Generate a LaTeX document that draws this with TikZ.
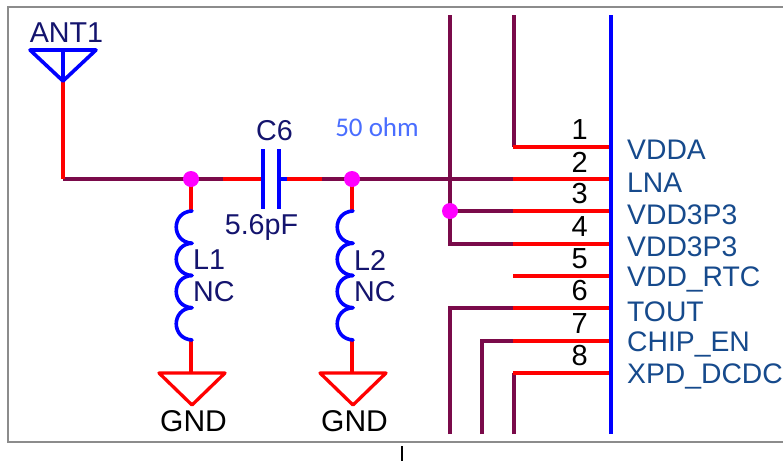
\documentclass[tikz,border=0pt]{standalone}
\usepackage{fontspec}
\setmainfont{Liberation Sans}
\newfontfamily\ohmfont{Carlito}
\definecolor{netdark}{HTML}{7A0A4A}
\definecolor{refblue}{HTML}{14146E}
\definecolor{pinblue}{HTML}{164A8C}
\definecolor{ohmblue}{HTML}{4A6EFF}
\definecolor{framegray}{HTML}{8C8C8C}
\definecolor{juncmag}{HTML}{FF00FF}
\tikzset{
  lbl/.style={inner sep=0pt,font=\fontsize{28.7}{28.7}\selectfont,text=refblue},
  pinnum/.style={inner sep=0pt,anchor=east,font=\fontsize{29}{29}\selectfont,text=black},
  pinname/.style={inner sep=0pt,anchor=west,font=\fontsize{28.3}{28.3}\selectfont,text=pinblue},
  gndlbl/.style={inner sep=0pt,font=\fontsize{30}{30}\selectfont,text=black},
  wirered/.style={draw=red,line width=3.3pt},
  wiredark/.style={draw=netdark,line width=3.6pt},
  partblue/.style={draw=blue,line width=3.6pt},
  gndsym/.style={draw=red,line width=3.3pt,line join=round},
  junction/.style={circle,fill=juncmag,draw=none,minimum size=16pt,inner sep=0pt},
}
\begin{document}
\begin{tikzpicture}[x=1pt,y=-1pt]
\useasboundingbox (0,0) rectangle (783,461);
\fill[white] (0,0) rectangle (783,461);
\draw[framegray,line width=2.5pt] (790,7) -- (8,7) -- (8,442) -- (790,442);
\draw[black,line width=1.6pt] (402,446) -- (402,461);
% coordinates
\coordinate (antTip) at (63,81);
\coordinate (corner) at (63,179);
\coordinate (jog1) at (223,179);
\coordinate (capL) at (263,179);
\coordinate (capR) at (279,179);
\coordinate (stubR) at (287,179);
\coordinate (jog2) at (322,179);
\coordinate (busA) at (450,15);
\coordinate (busA3) at (450,211);
\coordinate (busA4) at (450,244);
\coordinate (l1a) at (191,211);
\coordinate (l1b) at (191,340);
\coordinate (g1) at (191,373);
\coordinate (l2a) at (352,211);
\coordinate (l2b) at (352,340);
\coordinate (g2) at (352,373);
\foreach \n/\y in {1/147,2/179,3/211,4/244,5/276,6/308,7/341,8/373}{
  \coordinate (pa\n) at (513,\y);
  \coordinate (pb\n) at (611,\y);
}
\coordinate (top1) at (514,15);
\coordinate (barT) at (611,15);
\coordinate (barB) at (611,434);
\coordinate (bot6) at (450,434);
\coordinate (bot7) at (482,434);
\coordinate (bot8) at (514,434);
\coordinate (mid6) at (450,308);
\coordinate (mid7) at (482,341);
% dark nets
\draw[wiredark] (corner) -- (jog1);
\draw[wiredark] (jog2) -- (pa2);
\draw[wiredark] (busA) -- (busA4) -- (pa4);
\draw[wiredark] (busA3) -- (pa3);
\draw[wiredark] (top1) -- (514,147);
\draw[wiredark] (bot6) -- (mid6) -- (pa6);
\draw[wiredark] (bot7) -- (mid7) -- (pa7);
\draw[wiredark] (bot8) -- (514,373);
% red wires
\draw[wirered] (antTip) -- (corner);
\draw[wirered] (jog1) -- (capL);
\draw[wirered] (stubR) -- (jog2);
\foreach \n in {1,...,8}{\draw[wirered] (pa\n) -- (pb\n);}
\draw[wirered] (191,179) -- (l1a);
\draw[wirered] (352,179) -- (l2a);
\draw[wirered] (l1b) -- (g1);
\draw[wirered] (l2b) -- (g2);
% blue bar
\draw[partblue] (barT) -- (barB);
% antenna
\draw[partblue,line join=round] (30,50) -- (96,50) -- (antTip) -- cycle;
\draw[partblue] (63,50) -- (antTip);
% capacitor
\draw[partblue] (263,149) -- (263,209);
\draw[partblue] (279,149) -- (279,209);
\draw[partblue] (capR) -- (stubR);
% inductors
\foreach \x in {192,353}{
  \foreach \y in {211,243.25,275.5,307.75}{
    \draw[partblue,line cap=round] (\x,\y) .. controls (\x-21,\y+1) and (\x-21,\y+31) .. (\x,\y+32.25);
  }
}
% GND
\draw[gndsym] (159,373) -- (225,373) -- (192,405) -- cycle;
\draw[gndsym] (320,373) -- (386,373) -- (353,405) -- cycle;
% junctions
\node[junction] (j1) at (191,179) {};
\node[junction] (j2) at (352,179) {};
\node[junction] (j3) at (450,211) {};
% labels
\node[lbl] (ant) at (66.5,33) {ANT1};
\node[lbl] (c6) at (274.5,131) {C6};
\node[lbl] (cv) at (261.5,227) {5.6pF};
\node[lbl,anchor=west] (l1) at (193,260) {L1};
\node[lbl,anchor=west] (nc1) at (193,292) {NC};
\node[lbl,anchor=west] (l2) at (354,260) {L2};
\node[lbl,anchor=west] (nc2) at (354,292) {NC};
\node[gndlbl] (gt1) at (193.5,421) {GND};
\node[gndlbl] (gt2) at (354.5,421) {GND};
\node[inner sep=0pt,font=\ohmfont\fontsize{27}{27}\selectfont,text=ohmblue] (ohm) at (377,127) {50 ohm};
\foreach \n/\y in {1/130,2/162,3/194,4/227,5/259,6/291,7/324,8/356}{
  \node[pinnum] (n\n) at (588,\y) {\n};
}
\node[pinname] (t1) at (627,150) {VDDA};
\node[pinname] (t2) at (627,182.5) {LNA};
\node[pinname] (t3) at (627,215) {VDD3P3};
\node[pinname] (t4) at (627,247) {VDD3P3};
\node[pinname] (t5) at (627,279) {VDD\_RTC};
\node[pinname] (t6) at (627,312) {TOUT};
\node[pinname] (t7) at (627,344) {CHIP\_EN};
\node[pinname] (t8) at (627,376) {XPD\_DCDC};
\end{tikzpicture}
\end{document}
